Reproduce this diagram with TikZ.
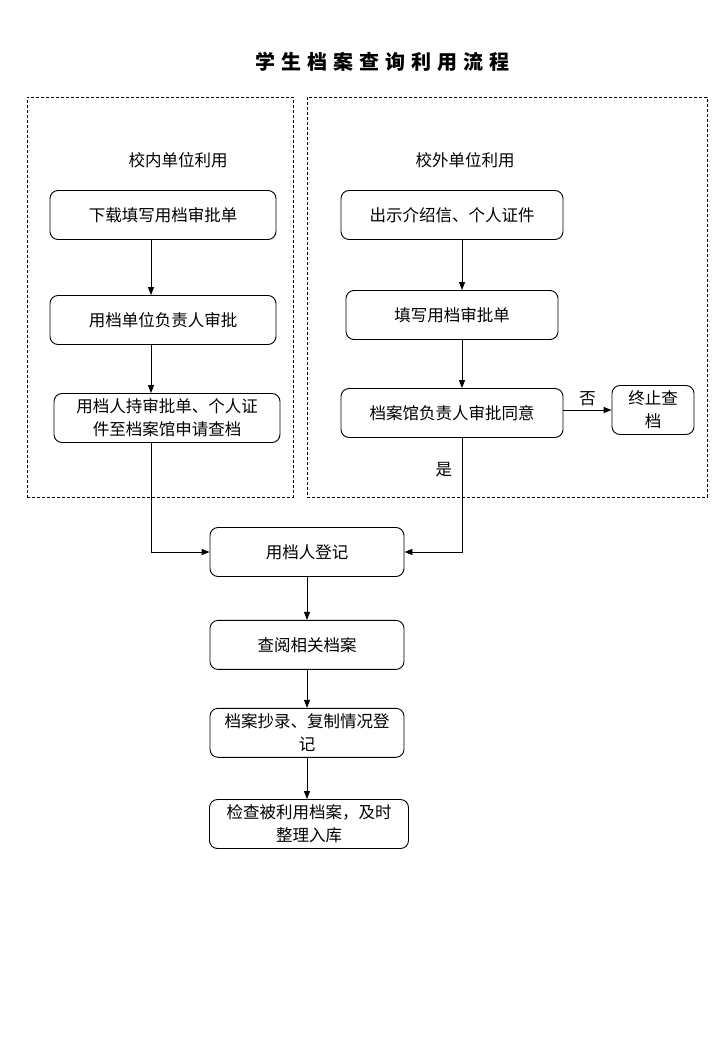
\documentclass[tikz,border=0pt]{standalone}
\usepackage{fontspec}
\setmainfont{Noto Sans CJK SC}
\newfontfamily\titlefont[LetterSpace=30]{Noto Sans CJK SC}
\usetikzlibrary{arrows.meta, positioning}
\tikzset{
  every picture/.style={line width=0.9pt},
  stepbox/.style={draw, rounded corners=8pt, align=center, minimum height=49pt,
    inner sep=2pt, font=\fontsize{16.5}{23}\selectfont},
  group/.style={draw, dash pattern=on 3pt off 2pt, line width=0.8pt, minimum height=400pt},
  arrow/.style={-{Triangle[length=8pt, width=6pt]}},
  note/.style={font=\fontsize{16.5}{20}\selectfont},
  title/.style={font=\titlefont\bfseries\fontsize{20}{24}\selectfont},
}

\begin{document}
\begin{tikzpicture}[x=1pt, y=-1pt]
  \useasboundingbox (0,0) rectangle (720,1040);
  \node[title] (title) at (382,62) {学生档案查询利用流程};

  % two groups
  \node[group, minimum width=266pt] (inner) at (160,297) {};
  \node[group, minimum width=400pt] (outer) at (507,297) {};
  \node[note] (innerlbl) at (178,160) {校内单位利用};
  \node[note] (outerlbl) at (465,160) {校外单位利用};

  % inside the school
  \node[stepbox, minimum width=226pt] (a1) at (163,215) {下载填写用档审批单};
  \node[stepbox, minimum width=226pt] (a2) at (163,320) {用档单位负责人审批};
  \node[stepbox, minimum width=226pt] (a3) at (167,418) {用档人持审批单、个人证\\件至档案馆申请查档};

  % outside the school
  \node[stepbox, minimum width=222pt] (b1) at (452,215) {出示介绍信、个人证件};
  \node[stepbox, minimum width=212pt] (b2) at (452,315) {填写用档审批单};
  \node[stepbox, minimum width=222pt] (b3) at (452,413) {档案馆负责人审批同意};
  \node[stepbox, minimum width=82pt] (stop) at (653,410) {终止查\\档};

  % common steps
  \node[stepbox, minimum width=194pt] (reg) at (307,552) {用档人登记};
  \node[stepbox, minimum width=194pt, below=43pt of reg] (read) {查阅相关档案};
  \node[stepbox, minimum width=194pt, below=38pt of read] (copy) {档案抄录、复制情况登\\记};
  \node[stepbox, minimum width=199pt] (store) at (309,824) {检查被利用档案，及时\\整理入库};

  \draw[arrow] ([xshift=-12pt]a1.south) -- ([xshift=-12pt]a2.north);
  \draw[arrow] ([xshift=-12pt]a2.south) -- ([xshift=-16pt]a3.north);
  \draw[arrow] ([xshift=-16pt]a3.south) |- (reg.west);
  \draw[arrow] ([xshift=10pt]b1.south) -- ([xshift=10pt]b2.north);
  \draw[arrow] ([xshift=10pt]b2.south) -- ([xshift=10pt]b3.north);
  \draw[arrow] (b3.east |- stop) -- node[note, above] {否} (stop.west);
  \draw[arrow] ([xshift=10pt]b3.south) |- node[note, pos=0.14, left=6pt] {是} (reg.east);
  \draw[arrow] (reg) -- (read);
  \draw[arrow] (read) -- (copy);
  \draw[arrow] (copy.south) -- (copy.south |- store.north);
\end{tikzpicture}
\end{document}
